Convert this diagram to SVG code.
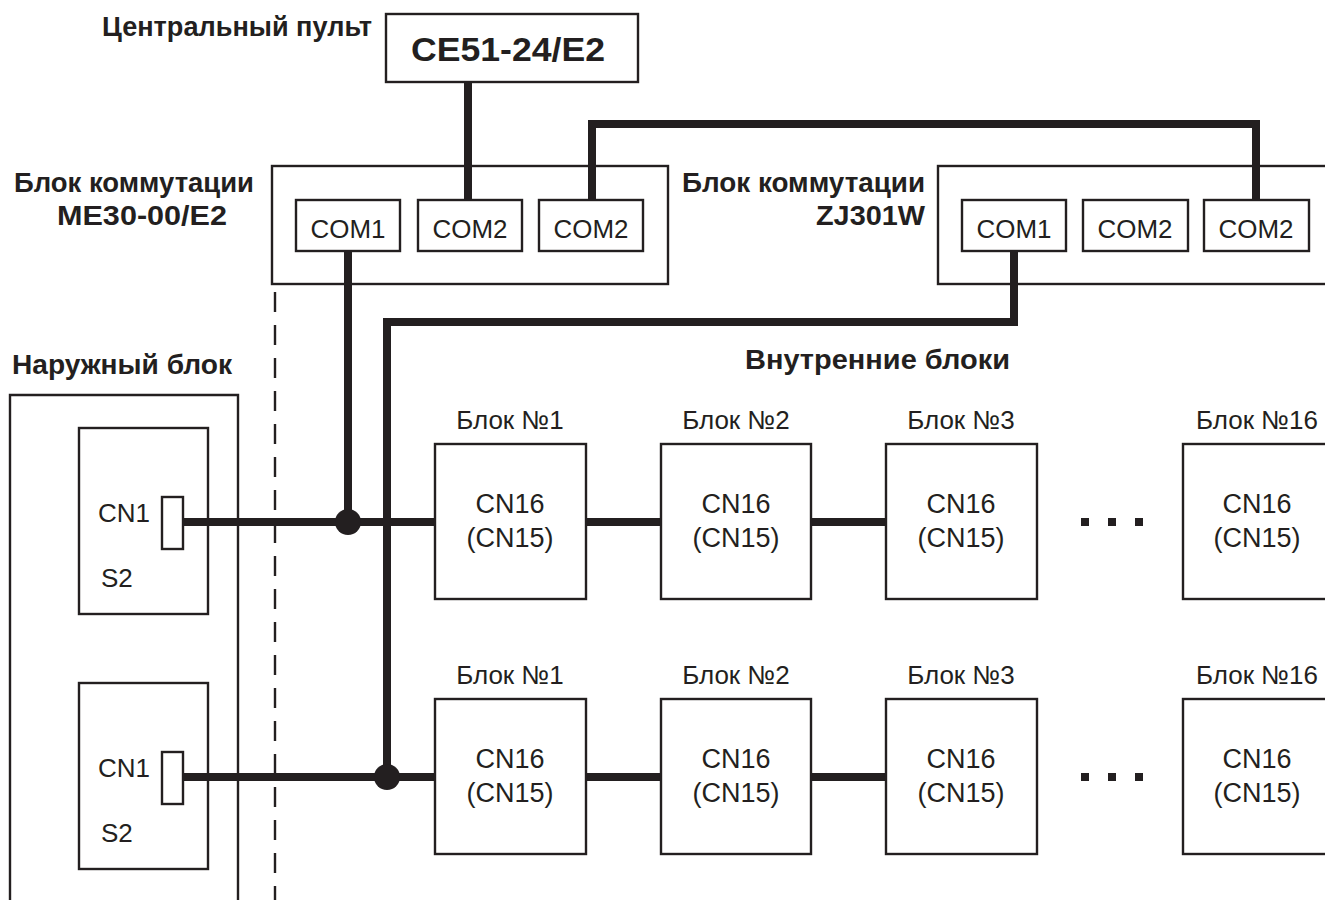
<svg xmlns="http://www.w3.org/2000/svg" width="1325" height="900" viewBox="0 0 1325 900">
<style>
.box{fill:#fff;stroke:#231f20;stroke-width:2.4}
.wire{fill:none;stroke:#231f20;stroke-width:8;stroke-linejoin:miter}
.t{font-family:"Liberation Sans",Arial,sans-serif;fill:#231f20}
.b{font-weight:bold;font-size:28px}
.com{font-size:26px;text-anchor:middle}
.cn{font-size:27px;text-anchor:middle}
.lbl{font-size:26px;text-anchor:middle}
.s{font-size:26px}
.dash{fill:none;stroke:#231f20;stroke-width:2.4;stroke-dasharray:20 13}
</style>
<rect width="1325" height="900" fill="#fff"/>

<g id="labels">
<text class="t b" x="372" y="36" text-anchor="end" font-size="29" textLength="270" lengthAdjust="spacingAndGlyphs">Центральный пульт</text>
<text class="t b" x="254" y="192" text-anchor="end" textLength="240" lengthAdjust="spacingAndGlyphs">Блок коммутации</text>
<text class="t b" x="227" y="225" text-anchor="end" textLength="170" lengthAdjust="spacingAndGlyphs">ME30-00/E2</text>
<text class="t b" x="925" y="192" text-anchor="end" textLength="243" lengthAdjust="spacingAndGlyphs">Блок коммутации</text>
<text class="t b" x="925" y="225" text-anchor="end" textLength="109" lengthAdjust="spacingAndGlyphs">ZJ301W</text>
<text class="t b" x="12" y="374" textLength="220" lengthAdjust="spacingAndGlyphs">Наружный блок</text>
<text class="t b" x="1010" y="369" text-anchor="end" textLength="265" lengthAdjust="spacingAndGlyphs">Внутренние блоки</text>
</g>

<g id="central">
<rect class="box" x="386" y="14" width="252" height="68"/>
<text class="t" x="411" y="61" font-weight="bold" font-size="33" textLength="194" lengthAdjust="spacingAndGlyphs">CE51-24/E2</text>
</g>

<g id="me30">
<rect class="box" x="272" y="166" width="396" height="118"/>
<rect class="box" x="296" y="200" width="104" height="51"/>
<text class="t com" x="348" y="238" textLength="75" lengthAdjust="spacingAndGlyphs">COM1</text>
<rect class="box" x="418" y="200" width="104" height="51"/>
<text class="t com" x="470" y="238" textLength="75" lengthAdjust="spacingAndGlyphs">COM2</text>
<rect class="box" x="539" y="200" width="104" height="51"/>
<text class="t com" x="591" y="238" textLength="75" lengthAdjust="spacingAndGlyphs">COM2</text>
</g>

<g id="zj301w">
<rect class="box" x="938" y="166" width="400" height="118"/>
<rect class="box" x="962" y="200" width="104" height="51"/>
<text class="t com" x="1014" y="238" textLength="75" lengthAdjust="spacingAndGlyphs">COM1</text>
<rect class="box" x="1083" y="200" width="105" height="51"/>
<text class="t com" x="1135" y="238" textLength="75" lengthAdjust="spacingAndGlyphs">COM2</text>
<rect class="box" x="1204" y="200" width="105" height="51"/>
<text class="t com" x="1256" y="238" textLength="75" lengthAdjust="spacingAndGlyphs">COM2</text>
</g>

<g id="outdoor">
<path d="M10 905 V395 H238 V905" fill="none" stroke="#231f20" stroke-width="2.4"/>
<g id="outdoor1">
<rect class="box" x="79" y="428" width="129" height="186"/>
<text class="t s" x="98" y="522">CN1</text>
<text class="t s" x="101" y="587">S2</text>
<rect class="box" x="162" y="497" width="21" height="52"/>
</g>
<g id="outdoor2">
<rect class="box" x="79" y="683" width="129" height="186"/>
<text class="t s" x="98" y="777">CN1</text>
<text class="t s" x="101" y="842">S2</text>
<rect class="box" x="162" y="752" width="21" height="52"/>
</g>
</g>

<line class="dash" x1="275" y1="292" x2="275" y2="905"/>

<g id="connectors">
<path class="wire" d="M468 82 V200"/>
<path class="wire" d="M592 200 V124 H1256 V200"/>
<path class="wire" d="M348 251 V522"/>
<path class="wire" d="M1014 251 V322 H387 V777"/>
<path class="wire" d="M183 522 H435 M586 522 H661 M811 522 H886"/>
<path class="wire" d="M183 777 H435 M586 777 H661 M811 777 H886"/>
<circle cx="348" cy="522" r="13" fill="#231f20"/>
<circle cx="387" cy="777" r="13" fill="#231f20"/>
</g>

<g id="dots" fill="#231f20">
<rect x="1081" y="518" width="8" height="8"/>
<rect x="1108" y="518" width="8" height="8"/>
<rect x="1135" y="518" width="8" height="8"/>
<rect x="1081" y="773" width="8" height="8"/>
<rect x="1108" y="773" width="8" height="8"/>
<rect x="1135" y="773" width="8" height="8"/>
</g>

<g id="row1">
<g id="r1b1"><text class="t lbl" x="510" y="429">Блок №1</text><rect class="box" x="435" y="444" width="151" height="155"/><text class="t cn" x="510" y="513">CN16</text><text class="t cn" x="510" y="547">(CN15)</text></g>
<g id="r1b2"><text class="t lbl" x="736" y="429">Блок №2</text><rect class="box" x="661" y="444" width="150" height="155"/><text class="t cn" x="736" y="513">CN16</text><text class="t cn" x="736" y="547">(CN15)</text></g>
<g id="r1b3"><text class="t lbl" x="961" y="429">Блок №3</text><rect class="box" x="886" y="444" width="151" height="155"/><text class="t cn" x="961" y="513">CN16</text><text class="t cn" x="961" y="547">(CN15)</text></g>
<g id="r1b16"><text class="t lbl" x="1257" y="429">Блок №16</text><rect class="box" x="1183" y="444" width="151" height="155"/><text class="t cn" x="1257" y="513">CN16</text><text class="t cn" x="1257" y="547">(CN15)</text></g>
</g>

<g id="row2">
<g id="r2b1"><text class="t lbl" x="510" y="684">Блок №1</text><rect class="box" x="435" y="699" width="151" height="155"/><text class="t cn" x="510" y="768">CN16</text><text class="t cn" x="510" y="802">(CN15)</text></g>
<g id="r2b2"><text class="t lbl" x="736" y="684">Блок №2</text><rect class="box" x="661" y="699" width="150" height="155"/><text class="t cn" x="736" y="768">CN16</text><text class="t cn" x="736" y="802">(CN15)</text></g>
<g id="r2b3"><text class="t lbl" x="961" y="684">Блок №3</text><rect class="box" x="886" y="699" width="151" height="155"/><text class="t cn" x="961" y="768">CN16</text><text class="t cn" x="961" y="802">(CN15)</text></g>
<g id="r2b16"><text class="t lbl" x="1257" y="684">Блок №16</text><rect class="box" x="1183" y="699" width="151" height="155"/><text class="t cn" x="1257" y="768">CN16</text><text class="t cn" x="1257" y="802">(CN15)</text></g>
</g>
</svg>
